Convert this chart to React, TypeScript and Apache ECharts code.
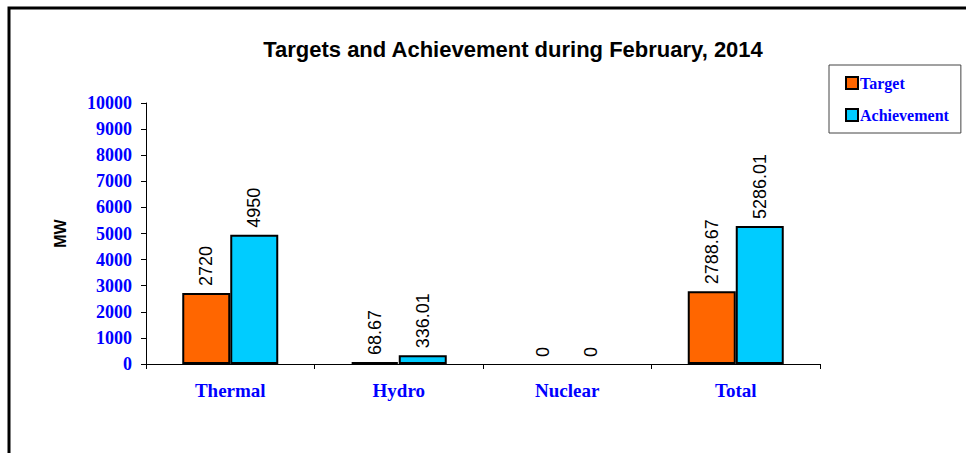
import React, { useEffect, useRef } from "react";
import * as echarts from "echarts";

const categories = ["Thermal", "Hydro", "Nuclear", "Total"];
const targetValues = [2720, 68.67, 0, 2788.67];
const achievementValues = [4950, 336.01, 0, 5286.01];
const seriesNames = ["Target", "Achievement"];

const withZeroStyle = (vals: number[]) =>
  vals.map((v) => (v === 0 ? { value: v, itemStyle: { borderWidth: 0 } } : v));

export default function App() {
  const ref = useRef<HTMLDivElement>(null);
  useEffect(() => {
    if (!ref.current) return;
    const chart = echarts.init(ref.current, null, { renderer: "svg" });
    const labelCfg = {
      show: true,
      position: "top" as const,
      rotate: 90,
      align: "left" as const,
      verticalAlign: "middle" as const,
      distance: 7,
      color: "#000",
      fontFamily: "Liberation Sans, Arial, sans-serif",
      fontSize: 18,
    };
    chart.setOption({
      animation: false,
      backgroundColor: "#fff",
      title: {
        text: "Targets and Achievement during February, 2014",
        left: 508,
        top: 33,
        textAlign: "center",
        textStyle: {
          fontFamily: "Liberation Sans, Arial, sans-serif",
          fontWeight: "bold",
          fontSize: 22,
          color: "#000",
        },
      },
      graphic: [
        {
          type: "rect",
          shape: { x: 9, y: 8, width: 1000, height: 500 },
          style: { fill: "none", stroke: "#000", lineWidth: 3 },
          silent: true,
        },
      ],
      legend: {
        orient: "vertical",
        left: 829,
        top: 65,
        width: 135,
        padding: [10, 12, 10, 16],
        itemGap: 16,
        itemWidth: 12,
        itemHeight: 12,
        borderColor: "#444",
        borderWidth: 1,
        icon: "rect",
        data: seriesNames,
        textStyle: {
          fontFamily: "Liberation Serif, Times New Roman, serif",
          fontWeight: "bold",
          fontSize: 16,
          color: "#0000ff",
          padding: [0, 0, 0, -3],
        },
      },
      grid: { left: 146, top: 103, right: 146, bottom: 89 },
      xAxis: {
        type: "category",
        data: categories,
        axisLine: { lineStyle: { color: "#000", width: 1 } },
        axisTick: { show: true, length: 5, lineStyle: { color: "#000" } },
        axisLabel: {
          margin: 17,
          color: "#0000ff",
          fontFamily: "Liberation Serif, Times New Roman, serif",
          fontWeight: "bold",
          fontSize: 19,
        },
      },
      yAxis: {
        type: "value",
        min: 0,
        max: 10000,
        interval: 1000,
        name: "MW",
        nameLocation: "middle",
        nameGap: 78,
        nameRotate: 90,
        nameTextStyle: {
          fontFamily: "Liberation Sans, Arial, sans-serif",
          fontWeight: "bold",
          fontSize: 16,
          color: "#000",
        },
        axisLine: { show: true, lineStyle: { color: "#000", width: 1 } },
        axisTick: { show: true, length: 5, lineStyle: { color: "#000" } },
        splitLine: { show: false },
        axisLabel: {
          margin: 14,
          formatter: (v: number) => String(v),
          color: "#0000ff",
          fontFamily: "Liberation Serif, Times New Roman, serif",
          fontWeight: "bold",
          fontSize: 18,
        },
      },
      series: [
        {
          name: seriesNames[0],
          type: "bar",
          data: withZeroStyle(targetValues),
          barWidth: 48,
          barGap: "0%",
          itemStyle: { color: "#ff6600", borderColor: "#000", borderWidth: 2 },
          label: labelCfg,
        },
        {
          name: seriesNames[1],
          type: "bar",
          data: withZeroStyle(achievementValues),
          barWidth: 48,
          barGap: "0%",
          itemStyle: { color: "#00ccff", borderColor: "#000", borderWidth: 2 },
          label: labelCfg,
        },
      ],
    });
    return () => chart.dispose();
  }, []);
  return (
    <div
      ref={ref}
      style={{ position: "fixed", left: 0, top: 0, width: 966, height: 453 }}
    />
  );
}
